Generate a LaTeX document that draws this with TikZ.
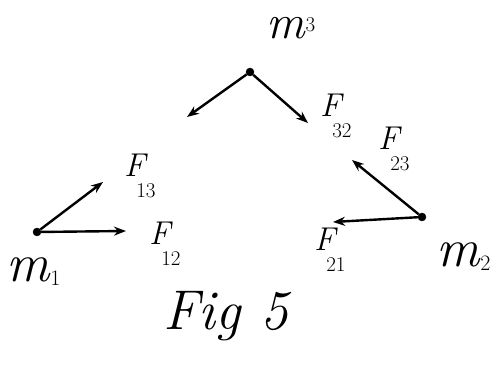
\documentclass[tikz,border=0pt]{standalone}
\usetikzlibrary{arrows.meta}
\newcommand\fsub[2]{{\fontsize{33}{35}\selectfont\itshape #1}\kern-9pt\raisebox{-21pt}{\fontsize{21}{23}\selectfont #2}}
\newcommand\msub[2]{{\fontsize{54}{56}\selectfont\itshape #1}\kern1pt\raisebox{-4pt}{\fontsize{22}{24}\selectfont #2}}
\newcommand\msup[2]{{\fontsize{48}{50}\selectfont\itshape #1}\kern1pt\raisebox{7pt}{\fontsize{21}{23}\selectfont #2}}
\begin{document}
\begin{tikzpicture}[x=1pt,y=-1pt,
  mass/.style={circle,fill=black,draw=black,inner sep=0pt,minimum size=8pt},
  force/.style={line width=2.4pt,-{Stealth[length=12pt,width=9pt]}},
  lbl/.style={inner sep=0pt,anchor=base west}]
\useasboundingbox (0,0) rectangle (504,379);
% masses
\node[mass] (m3) at (250,72) {};
\node[mass] (m1) at (37,232) {};
\node[mass] (m2) at (422,217) {};
% free ends
\coordinate (t31) at (187,117);
\coordinate (t32) at (308,123);
\coordinate (t13) at (103,182);
\coordinate (t12) at (126,231);
\coordinate (t23) at (352,160);
\coordinate (t21) at (333,222);
% forces
\draw[force] (m3) -- (t31);
\draw[force] (m3) -- (t32);
\draw[force] (m1) -- (t13);
\draw[force] (m1) -- (t12);
\draw[force] (m2) -- (t23);
\draw[force] (m2) -- (t21);
% labels
\node[lbl] (l3) at (266,39) {\msup{m}{3}};
\node[lbl] (l1) at (6,282) {\msub{m}{1}};
\node[lbl] (l2) at (436,267) {\msub{m}{2}};
\node[lbl] (f32) at (320,117) {\fsub{F}{32}};
\node[lbl] (f13) at (124,177) {\fsub{F}{13}};
\node[lbl] (f12) at (149,245) {\fsub{F}{12}};
\node[lbl] (f23) at (378,150) {\fsub{F}{23}};
\node[lbl] (f21) at (314,251) {\fsub{F}{21}};
\node[lbl,font=\fontsize{56}{58}\selectfont\itshape] (fig) at (163,330) {Fig 5};
\end{tikzpicture}
\end{document}
